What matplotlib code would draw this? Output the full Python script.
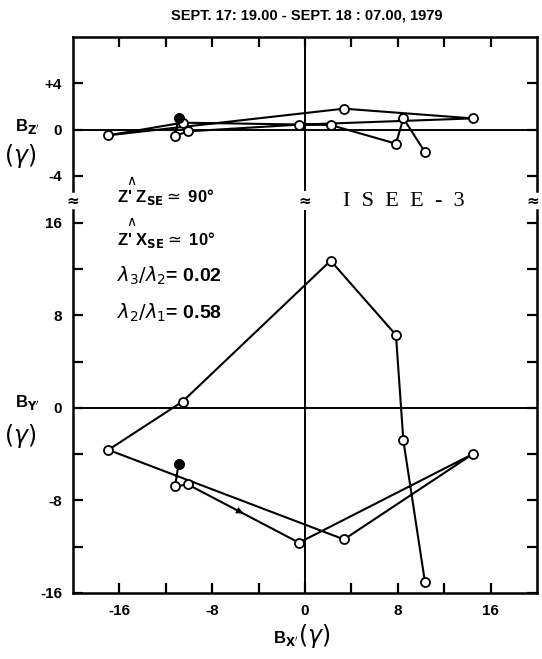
import matplotlib
matplotlib.use("Agg")
import matplotlib.pyplot as plt
import numpy as np

# ---- data (time order; first point = filled start marker) ----
bx_prime = [-10.9, -11.2, -10.1, -0.52, 14.45, 3.36, -16.95, -10.55, 2.21, 7.84, 8.48, 10.34]
by_prime = [-4.83, -6.79, -6.62, -11.65, -4.0, -11.37, -3.63, 0.55, 12.72, 6.30, -2.82, -15.05]
bz_prime = [1.0, -0.55, -0.15, 0.43, 0.97, 1.81, -0.49, 0.6, 0.4, -1.21, 0.97, -1.93]

x_major = [-16, -8, 0, 8, 16]
x_minor = [-12, -4, 4, 12]
x_labels = ["-16", "-8", "0", "8", "16"]
ytop_ticks = [-4, 0, 4]
ytop_labels = ["-4", "0", "+4"]
ybot_major = [-16, -8, 0, 8, 16]
ybot_minor = [-12, -4, 4, 12]
ybot_labels = ["-16", "-8", "0", "8", "16"]

title = "SEPT. 17: 19.00 - SEPT. 18 : 07.00, 1979"

W, H = 542, 659
fig = plt.figure(figsize=(W / 100, H / 100), dpi=100)
fig.patch.set_facecolor("white")

FAM = ["Liberation Sans", "DejaVu Sans"]
BOLD = dict(family=FAM, fontweight="bold")
plt.rcParams["mathtext.fontset"] = "dejavusans"


def P(x, y):
    return (x / W, 1 - y / H)


L, R = 73, 537
ax_top = fig.add_axes([L / W, 1 - 191 / H, (R - L) / W, (191 - 37) / H])
ax_bot = fig.add_axes([L / W, 1 - 593 / H, (R - L) / W, (593 - 210) / H])

lw_sp = 1.8
for ax in (ax_top, ax_bot):
    ax.set_xlim(-20, 20)
    for s in ax.spines.values():
        s.set_linewidth(lw_sp)
    ax.axhline(0, color="k", lw=1.4, zorder=1)
    ax.axvline(0, color="k", lw=1.4, zorder=1)

# top panel
ax_top.set_ylim(-5.3, 8)
ax_top.spines["bottom"].set_visible(False)
ax_top.xaxis.set_ticks_position("top")
ax_top.set_xticks(x_major + x_minor)
ax_top.set_xticklabels([])
ax_top.set_yticks(ytop_ticks)
ax_top.set_yticklabels(ytop_labels)
ax_top.tick_params(axis="both", direction="in", length=7, width=1.6,
                   left=True, right=True, top=True, bottom=False, labelsize=11)
ax_top.tick_params(axis="y", pad=8)

# bottom panel
ax_bot.set_ylim(-16, 17.1)
ax_bot.spines["top"].set_visible(False)
ax_bot.set_xticks(x_major)
ax_bot.set_xticklabels(x_labels)
ax_bot.set_xticks(x_minor, minor=True)
ax_bot.set_yticks(ybot_major)
ax_bot.set_yticklabels(ybot_labels)
ax_bot.set_yticks(ybot_minor, minor=True)
for which in ("major", "minor"):
    ax_bot.tick_params(axis="both", which=which, direction="in", length=7, width=1.6,
                       left=True, right=True, top=False, bottom=True)
ax_bot.tick_params(axis="both", which="major", labelsize=11, pad=8)

for ax in (ax_top, ax_bot):
    for lab in ax.get_xticklabels() + ax.get_yticklabels():
        lab.set_fontfamily(FAM)
        lab.set_fontweight("bold")

mk = dict(marker="o", ms=6.5, mfc="white", mec="k", mew=1.3, color="k", lw=1.5, zorder=3)
ax_top.plot(bx_prime, bz_prime, **mk)
ax_bot.plot(bx_prime, by_prime, **mk)
ax_top.plot(bx_prime[0], bz_prime[0], "o", ms=6.5, color="k", zorder=4)
ax_bot.plot(bx_prime[0], by_prime[0], "o", ms=6.5, color="k", zorder=4)

# direction arrow on the 3rd segment (computed from the data)
x0, y0 = bx_prime[2], by_prime[2]
x1, y1 = bx_prime[3], by_prime[3]
t0, t1 = 0.46, 0.52
ax_bot.annotate("", xy=(x0 + (x1 - x0) * t1, y0 + (y1 - y0) * t1),
                xytext=(x0 + (x1 - x0) * t0, y0 + (y1 - y0) * t0),
                arrowprops=dict(arrowstyle="-|>", color="k", lw=1.0, mutation_scale=9),
                zorder=5)

# break marks
for xp in (L, 305, R - 4):
    fig.text(*P(xp, 201), "≈", ha="center", va="center", fontsize=11, fontweight="bold")

# title
fig.text(*P(307, 16), title, ha="center", va="center", fontsize=10.5, **BOLD)

# y labels
fig.text(*P(27, 126), "B$_{\\mathbf{Z'}}$", ha="center", va="center", fontsize=12, **BOLD)
fig.text(*P(20, 156), "$(\\gamma)$", ha="center", va="center", fontsize=17,
         family="DejaVu Serif")
fig.text(*P(27, 402), "B$_{\\mathbf{Y'}}$", ha="center", va="center", fontsize=12, **BOLD)
fig.text(*P(20, 436), "$(\\gamma)$", ha="center", va="center", fontsize=17,
         family="DejaVu Serif")

# x label
fig.text(*P(298, 638), "B$_{\\mathbf{X'}}$", ha="right", va="center", fontsize=12, **BOLD)
fig.text(*P(298, 636), "$(\\gamma)$", ha="left", va="center", fontsize=17,
         family="DejaVu Serif")

# annotations
fig.text(*P(117, 197), "Z' Z$_{\\mathbf{SE}}\\simeq$ 90°", ha="left", va="center",
         fontsize=12, **BOLD)
fig.text(*P(131, 181), "∧", ha="center", va="center", fontsize=10)
fig.text(*P(117, 240), "Z' X$_{\\mathbf{SE}}\\simeq$ 10°", ha="left", va="center",
         fontsize=12, **BOLD)
fig.text(*P(131, 222), "∧", ha="center", va="center", fontsize=10)
fig.text(*P(117, 276), "$\\lambda_3/\\lambda_2$= 0.02", ha="left", va="center", fontsize=14, **BOLD)
fig.text(*P(117, 313), "$\\lambda_2/\\lambda_1$= 0.58", ha="left", va="center", fontsize=14, **BOLD)

fig.text(*P(343, 201), "I  S  E  E  -  3", ha="left", va="center", fontsize=16,
         family=["Liberation Serif", "DejaVu Serif"])

fig.savefig("out.png", dpi=100, facecolor="white")
